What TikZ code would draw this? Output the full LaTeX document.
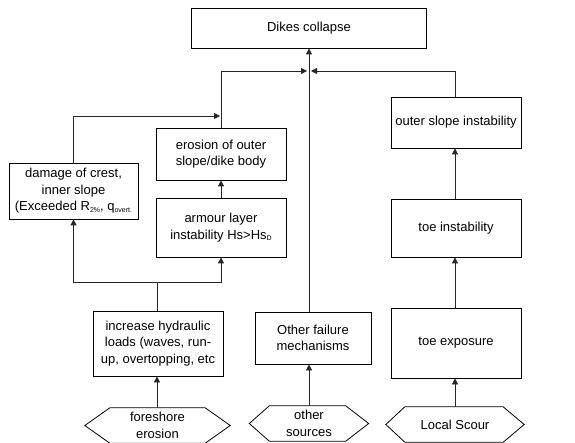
\documentclass[tikz,border=0pt]{standalone}
\usepackage{fontspec}
\setmainfont{Liberation Sans}
\usetikzlibrary{arrows.meta}
\newcommand{\mysub}[1]{\raisebox{-1.2pt}{\fontsize{7}{7}\selectfont #1}}
\tikzset{
  box/.style={draw=black, line width=0.8pt, align=center, inner sep=2pt,
    font=\fontsize{13}{16.5}\selectfont},
  hexlabel/.style={draw=none, align=center, inner sep=0pt,
    font=\fontsize{13}{16.5}\selectfont},
  hexline/.style={draw=black, line width=0.8pt},
  arr/.style={draw=black!85, line width=0.8pt, -{Triangle[length=6pt,width=6pt]}},
  ln/.style={draw=black!85, line width=0.8pt}
}
\begin{document}
\begin{tikzpicture}[x=1pt,y=-1pt]
\useasboundingbox (0,0) rectangle (575,443);
\fill[white] (0,0) rectangle (575,443);

% boxes
\node[box, minimum width=235pt, minimum height=40pt] (dik) at (309,28) {Dikes collapse};
\node[box, minimum width=130pt, minimum height=51pt] (out) at (456,122.5) {outer slope instability};
\node[box, minimum width=130pt, minimum height=52pt] (ero) at (221,154) {erosion of outer\\slope/dike body};
\node[box, minimum width=129pt, minimum height=56pt] (dam) at (73.5,191) {damage of crest,\\inner slope\\(Exceeded R\mysub{2\%}, q\mysub{overt.}};
\node[box, minimum width=130pt, minimum height=59pt] (arm) at (221,227.5) {armour layer\\instability Hs>Hs\mysub{D}};
\node[box, minimum width=130pt, minimum height=58pt] (toi) at (456,228) {toe instability};
\node[box, minimum width=130pt, minimum height=70pt] (toe) at (456,343) {toe exposure};
\node[box, minimum width=130pt, minimum height=65pt] (inc) at (158,343.5) {increase hydraulic\\loads (waves, run-\\up, overtopping, etc};
\node[box, minimum width=116pt, minimum height=52pt] (oth) at (313,338) {Other failure\\mechanisms};

% hexagons
\node[hexlabel, minimum width=145pt, minimum height=35pt] (fsh) at (157.5,425.5) {foreshore\\erosion};
\node[hexlabel, minimum width=119pt, minimum height=35pt] (osr) at (309,423.5) {other\\sources};
\node[hexlabel, minimum width=138pt, minimum height=35pt] (lsc) at (455,424.5) {Local Scour};
\draw[hexline] (fsh.west) -- ([xshift=25pt]fsh.north west) -- ([xshift=-25pt]fsh.north east) -- (fsh.east) -- ([xshift=-25pt]fsh.south east) -- ([xshift=25pt]fsh.south west) -- cycle;
\draw[hexline] (osr.west) -- ([xshift=20pt]osr.north west) -- ([xshift=-23pt]osr.north east) -- (osr.east) -- ([xshift=-23pt]osr.south east) -- ([xshift=20pt]osr.south west) -- cycle;
\draw[hexline] (lsc.west) -- ([xshift=19pt]lsc.north west) -- ([xshift=-21pt]lsc.north east) -- (lsc.east) -- ([xshift=-21pt]lsc.south east) -- ([xshift=19pt]lsc.south west) -- cycle;

% junction coordinates
\coordinate (JL) at (307,71);
\coordinate (JR) at (311,71);
\coordinate (K) at (220,116);
\coordinate (M) at (157,282);

% connectors
\draw[arr] (dik.south |- oth.north) -- (dik.south);
\draw[arr] (ero.north) |- (JL);
\draw[arr] ([xshift=-1pt]out.north) |- (JR);
\draw[arr] (dam.north) |- (K);
\draw[arr] (arm.north) -- (ero.south);
\draw[ln] (inc.north -| M) -- (M);
\draw[arr] (M) -| (dam.south);
\draw[arr] (M) -| (arm.south);
\draw[arr] ([xshift=-1pt]toi.north) -- ([xshift=-1pt]out.south);
\draw[arr] ([xshift=-1pt]toe.north) -- ([xshift=-1pt]toi.south);
\draw[arr] (lsc.north) -- (lsc.north |- toe.south);
\draw[arr] (osr.north) -- (osr.north |- oth.south);
\draw[arr] (fsh.north -| M) -- (M |- inc.south);
\end{tikzpicture}
\end{document}
